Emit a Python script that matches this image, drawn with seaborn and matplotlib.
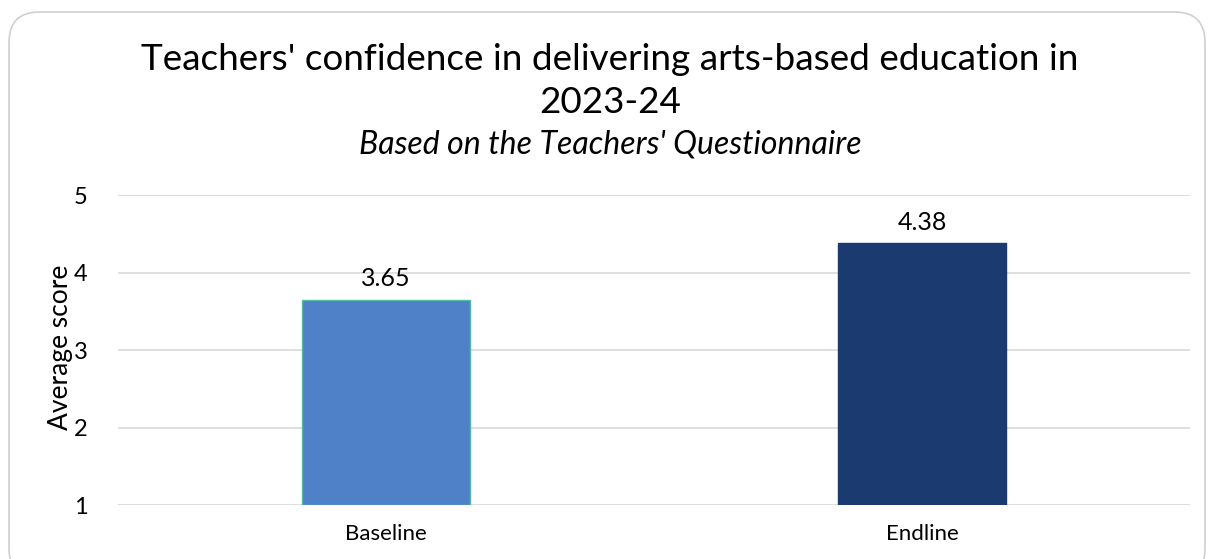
import matplotlib
matplotlib.use("Agg")
import matplotlib.pyplot as plt
import seaborn as sns
import pandas as pd
from matplotlib.patches import FancyBboxPatch

categories = ["Baseline", "Endline"]
scores = [3.65, 4.38]
bar_colors = ["#4F81C8", "#1B3A6F"]
edge_colors = ["#4FBF9F", "#1B3A6F"]
y_ticks = [1, 2, 3, 4, 5]

sns.set_theme(style="white")
plt.rcParams["font.family"] = ["Lato", "DejaVu Sans"]

df = pd.DataFrame({"period": categories, "score": scores})

W, H = 1214, 559
fig = plt.figure(figsize=(W / 100, H / 100), dpi=100)
ax = fig.add_axes([118 / W, 1 - 505 / H, (1190 - 118) / W, (505 - 195) / H])

# rounded outline of the chart area
frame = FancyBboxPatch((9 / W, -20 / H), (1205 - 9) / W, (547 + 20) / H,
                       boxstyle="round,pad=0,rounding_size=0.025",
                       transform=fig.transFigure, facecolor="none",
                       edgecolor="#D0D0D0", linewidth=1.2, mutation_aspect=W / H)
fig.patches.append(frame)

sns.barplot(data=df, x="period", y="score", hue="period", palette=bar_colors,
            saturation=1, width=0.313, legend=False, ax=ax, zorder=3)
for patch, ec in zip(ax.patches, edge_colors):
    patch.set_edgecolor(ec)
    patch.set_linewidth(1.0)
    patch.set_y(1)
    patch.set_height(patch.get_height() - 1)

ax.set_ylim(1, 5)
ax.set_xlim(-0.5, 1.5)
ax.set_yticks(y_ticks)
ax.yaxis.grid(True, color="#D9D9D9", linewidth=1.2, zorder=0)
ax.set_axisbelow(True)
for s in ax.spines.values():
    s.set_visible(False)
ax.tick_params(axis="y", labelsize=17, colors="black", pad=22, length=0)
ax.tick_params(axis="x", labelsize=16, colors="black", pad=14, length=0)
ax.set_xlabel("")
ax.set_ylabel("Average score", fontsize=19, color="black")
ax.yaxis.set_label_coords(-45 / 1072, 0.51)

for i, v in enumerate(scores):
    ax.text(i, v + 0.12, f"{v:.2f}", ha="center", va="bottom", fontsize=18, color="black")

cx = 0.5 + 3 / W
fig.text(cx, 1 - 70 / H, "Teachers' confidence in delivering arts-based education in",
         ha="center", va="baseline", fontsize=26.6, color="black")
fig.text(cx, 1 - 113 / H, "2023-24",
         ha="center", va="baseline", fontsize=26.6, color="black")
fig.text(cx, 1 - 153 / H, "Based on the Teachers' Questionnaire",
         ha="center", va="baseline", fontsize=23, style="italic", color="black")

fig.savefig("out.png", dpi=100)
